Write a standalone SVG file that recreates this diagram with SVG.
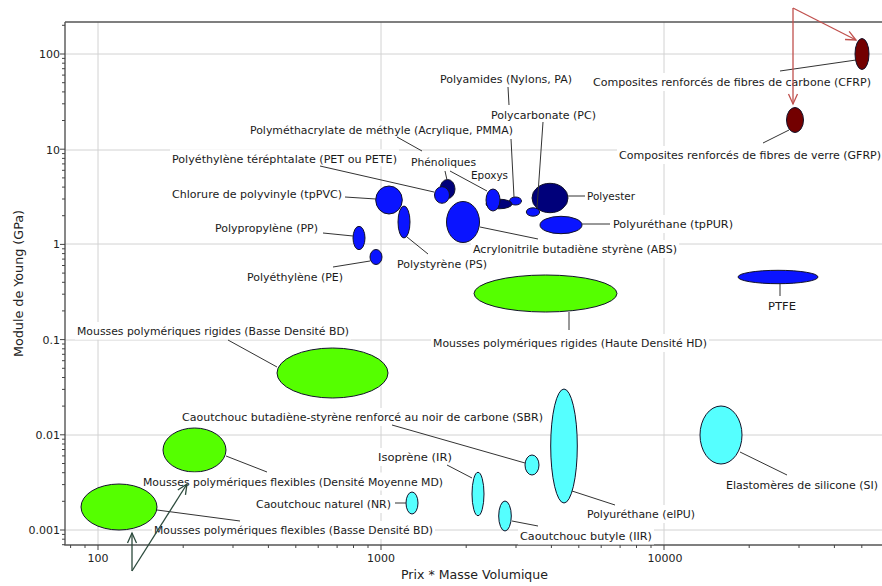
<svg xmlns="http://www.w3.org/2000/svg" width="882" height="586" viewBox="0 0 882 586">
<style>
.t{font-family:"DejaVu Sans",Verdana,sans-serif;font-size:11px;fill:#1a1a1a}
.ax{font-family:"DejaVu Sans",Verdana,sans-serif;font-size:11px;fill:#222}
.at{font-family:"DejaVu Sans",Verdana,sans-serif;font-size:12.5px;fill:#222}
.bg{fill:#fff}
.grid{stroke:#d2d2d2;stroke-width:1;fill:none}
.tick{stroke:#444;stroke-width:1}
.frame{stroke:#555;stroke-width:1.4;fill:none}
.lead{stroke:#333;stroke-width:1;fill:none}
.e{stroke:#12122a;stroke-width:1}
.blue{fill:#0a14ff}
.navy{fill:#00007a}
.green{fill:#55ff00}
.cyan{fill:#55ffff}
.dred{fill:#730000}
.rarr{stroke:#c0504d;stroke-width:1.3;fill:none}
.garr{stroke:#2c4a3c;stroke-width:1.3;fill:none}
</style>
<defs>
<marker id="mr" markerUnits="userSpaceOnUse" markerWidth="14" markerHeight="12" refX="11" refY="6" orient="auto"><path d="M1,1.5 L11,6 L1,10.5" fill="none" stroke="#c0504d" stroke-width="1.3"/></marker>
<marker id="mg" markerUnits="userSpaceOnUse" markerWidth="14" markerHeight="12" refX="11" refY="6" orient="auto"><path d="M1,1.5 L11,6 L1,10.5" fill="none" stroke="#2c4a3c" stroke-width="1.3"/></marker>
</defs>
<rect width="882" height="586" fill="#fff"/>
<g id="grid">
<path class="grid" d="M98,22V545M381,22V545M664,22V545M65,54H882M65,150H882M65,244H882M65,340H882M65,435H882M65,530H882"/>
</g>
<g id="axes">
<path class="frame" d="M65,22H882M65,22V545H882"/>
<path class="tick" d="M60,54H65M60,149.2H65M60,244.4H65M60,339.6H65M60,434.8H65M60,530H65
M62,25.3H65
M62,120.5H65M62,103.8H65M62,91.9H65M62,82.7H65M62,75.1H65M62,68.7H65M62,63.2H65M62,58.4H65
M62,215.7H65M62,199H65M62,187.1H65M62,177.9H65M62,170.3H65M62,163.9H65M62,158.4H65M62,153.6H65
M62,310.9H65M62,294.2H65M62,282.3H65M62,273.1H65M62,265.5H65M62,259.1H65M62,253.6H65M62,248.8H65
M62,406.1H65M62,389.4H65M62,377.5H65M62,368.3H65M62,360.7H65M62,354.3H65M62,348.8H65M62,344H65
M62,501.3H65M62,484.6H65M62,472.7H65M62,463.5H65M62,455.9H65M62,449.5H65M62,444H65M62,439.2H65
M62,534.4H65M62,539.2H65M62,544.7H65"/>
<path class="tick" d="M98,545V550M381,545V550M664,545V550
M70.6,545V548M85,545V548
M183.2,545V548M233,545V548M268.4,545V548M295.8,545V548M318.2,545V548M337.1,545V548M353.5,545V548M368,545V548
M466.2,545V548M516,545V548M551.4,545V548M578.8,545V548M601.2,545V548M620.1,545V548M636.5,545V548M651,545V548
M749.2,545V548M799,545V548M834.4,545V548M861.8,545V548"/>
<g class="ax" text-anchor="end">
<text x="60" y="58">100</text>
<text x="60" y="154">10</text>
<text x="60" y="248">1</text>
<text x="60" y="344">0.1</text>
<text x="60" y="439">0.01</text>
<text x="60" y="534">0.001</text>
</g>
<g class="ax" text-anchor="middle">
<text x="98" y="562">100</text>
<text x="381" y="562">1000</text>
<text x="665" y="562">10000</text>
</g>
<text class="at" x="474.5" y="579" text-anchor="middle" textLength="147" lengthAdjust="spacingAndGlyphs">Prix * Masse Volumique</text>
<text class="at" transform="translate(23,283.5) rotate(-90)" text-anchor="middle" textLength="147" lengthAdjust="spacingAndGlyphs">Module de Young (GPa)</text>
</g>

<g id="n-cfrp"><ellipse class="e dred" cx="862" cy="54" rx="7" ry="15.5"/><rect class="bg" x="591" y="73" width="282" height="18"/><text class="t" x="593" y="86" textLength="278" lengthAdjust="spacingAndGlyphs">Composites renforcés de fibres de carbone (CFRP)</text></g>
<g id="n-gfrp"><ellipse class="e dred" cx="795" cy="120" rx="8.5" ry="12.5"/><rect class="bg" x="617" y="146" width="265" height="18"/><text class="t" x="619" y="159" textLength="262" lengthAdjust="spacingAndGlyphs">Composites renforcés de fibres de verre (GFRP)</text></g>
<g id="n-pa"><ellipse class="e blue" cx="515.5" cy="201" rx="6" ry="4"/><rect class="bg" x="438" y="70" width="136" height="18"/><text class="t" x="440" y="83" textLength="132" lengthAdjust="spacingAndGlyphs">Polyamides (Nylons, PA)</text></g>
<g id="n-pc"><ellipse class="e blue" cx="533" cy="212" rx="6.7" ry="4.2"/><rect class="bg" x="489" y="106" width="109" height="18"/><text class="t" x="491" y="119" textLength="105" lengthAdjust="spacingAndGlyphs">Polycarbonate (PC)</text></g>
<g id="n-phen"><ellipse class="e navy" cx="447.5" cy="189" rx="7.5" ry="9.5"/><rect class="bg" x="409" y="153" width="69" height="18"/><text class="t" x="411" y="166" textLength="65" lengthAdjust="spacingAndGlyphs">Phénoliques</text></g>
<g id="n-epoxy"><ellipse class="e navy" cx="499" cy="204" rx="13" ry="4.8"/><rect class="bg" x="470" y="167" width="40" height="16"/><text class="t" x="471" y="179" textLength="37" lengthAdjust="spacingAndGlyphs">Epoxys</text></g>
<g id="n-pmma"><ellipse class="e blue" cx="493" cy="200" rx="7" ry="11"/><rect class="bg" x="248" y="121" width="267" height="18"/><text class="t" x="250" y="134" textLength="263" lengthAdjust="spacingAndGlyphs">Polyméthacrylate de méthyle (Acrylique, PMMA)</text></g>
<g id="n-pet"><ellipse class="e blue" cx="442" cy="195" rx="7.5" ry="8.3"/><rect class="bg" x="170" y="149.3" width="229" height="17"/><text class="t" x="172" y="163" textLength="225" lengthAdjust="spacingAndGlyphs">Polyéthylène téréphtalate (PET ou PETE)</text></g>
<g id="n-pvc"><ellipse class="e blue" cx="389" cy="200" rx="13.3" ry="14"/><rect class="bg" x="170" y="185" width="174" height="18"/><text class="t" x="172" y="198" textLength="170" lengthAdjust="spacingAndGlyphs">Chlorure de polyvinyle (tpPVC)</text></g>
<g id="n-polyester"><ellipse class="e navy" cx="550" cy="198" rx="18" ry="14.7"/><rect class="bg" x="585" y="187" width="52" height="18"/><text class="t" x="587" y="200" textLength="48" lengthAdjust="spacingAndGlyphs">Polyester</text></g>
<g id="n-tppur"><ellipse class="e blue" cx="561" cy="225" rx="21" ry="8.7"/><rect class="bg" x="611" y="215" width="124" height="18"/><text class="t" x="613" y="228" textLength="120" lengthAdjust="spacingAndGlyphs">Polyuréthane (tpPUR)</text></g>
<g id="n-pp"><ellipse class="e blue" cx="359" cy="238" rx="6" ry="11.7"/><rect class="bg" x="213" y="219" width="107" height="18"/><text class="t" x="215" y="232" textLength="103" lengthAdjust="spacingAndGlyphs">Polypropylène (PP)</text></g>
<g id="n-abs"><ellipse class="e blue" cx="463" cy="222" rx="16.5" ry="20.5"/><rect class="bg" x="471" y="240" width="208" height="18"/><text class="t" x="473" y="253" textLength="204" lengthAdjust="spacingAndGlyphs">Acrylonitrile butadiène styrène (ABS)</text></g>
<g id="n-ps"><ellipse class="e blue" cx="404" cy="222" rx="6" ry="16"/><rect class="bg" x="395" y="255" width="94" height="18"/><text class="t" x="397" y="268" textLength="90" lengthAdjust="spacingAndGlyphs">Polystyrène (PS)</text></g>
<g id="n-pe"><ellipse class="e blue" cx="376" cy="257" rx="6" ry="7.5"/><rect class="bg" x="245" y="268" width="100" height="18"/><text class="t" x="247" y="281" textLength="96" lengthAdjust="spacingAndGlyphs">Polyéthylène (PE)</text></g>
<g id="n-ptfe"><ellipse class="e blue" cx="778" cy="277" rx="40" ry="6.7"/><rect class="bg" x="766" y="297" width="32" height="18"/><text class="t" x="768" y="310" textLength="28" lengthAdjust="spacingAndGlyphs">PTFE</text></g>
<g id="n-rigid-bd"><ellipse class="e green" cx="332.5" cy="373" rx="55.5" ry="25"/><rect class="bg" x="75" y="322" width="276" height="17.6"/><text class="t" x="77" y="335" textLength="272" lengthAdjust="spacingAndGlyphs">Mousses polymériques rigides (Basse Densité BD)</text></g>
<g id="n-rigid-hd"><ellipse class="e green" cx="545.5" cy="293.5" rx="71.5" ry="18.5"/><rect class="bg" x="431" y="334" width="278" height="18"/><text class="t" x="433" y="347" textLength="274" lengthAdjust="spacingAndGlyphs">Mousses polymériques rigides (Haute Densité HD)</text></g>
<g id="n-sbr"><ellipse class="e cyan" cx="532" cy="465" rx="7" ry="10"/><rect class="bg" x="180" y="408" width="365" height="18"/><text class="t" x="182" y="421" textLength="361" lengthAdjust="spacingAndGlyphs">Caoutchouc butadiène-styrène renforcé au noir de carbone (SBR)</text></g>
<g id="n-elpu"><ellipse class="e cyan" cx="564" cy="446" rx="13.3" ry="57"/><rect class="bg" x="585" y="505" width="112" height="18"/><text class="t" x="587" y="518" textLength="108" lengthAdjust="spacingAndGlyphs">Polyuréthane (elPU)</text></g>
<g id="n-ir"><ellipse class="e cyan" cx="478" cy="494" rx="6" ry="21.7"/><rect class="bg" x="376" y="448" width="78" height="18"/><text class="t" x="378" y="461" textLength="74" lengthAdjust="spacingAndGlyphs">Isoprène (IR)</text></g>
<g id="n-flex-md"><ellipse class="e green" cx="194.5" cy="450" rx="31.5" ry="22"/><rect class="bg" x="141" y="472.5" width="304" height="18"/><text class="t" x="143" y="486" textLength="300" lengthAdjust="spacingAndGlyphs">Mousses polymériques flexibles (Densité Moyenne MD)</text></g>
<g id="n-si"><ellipse class="e cyan" cx="721" cy="435" rx="21" ry="29"/><rect class="bg" x="724" y="476" width="156" height="18"/><text class="t" x="726" y="489" textLength="152" lengthAdjust="spacingAndGlyphs">Elastomères de silicone (SI)</text></g>
<g id="n-nr"><ellipse class="e cyan" cx="412" cy="503" rx="6" ry="11"/><rect class="bg" x="254" y="495" width="139" height="18"/><text class="t" x="256" y="508" textLength="135" lengthAdjust="spacingAndGlyphs">Caoutchouc naturel (NR)</text></g>
<g id="n-flex-bd"><ellipse class="e green" cx="119" cy="507" rx="38" ry="23"/><rect class="bg" x="152" y="521" width="283" height="18"/><text class="t" x="154" y="534" textLength="279" lengthAdjust="spacingAndGlyphs">Mousses polymériques flexibles (Basse Densité BD)</text></g>
<g id="n-iir"><ellipse class="e cyan" cx="505" cy="516" rx="6.3" ry="15"/><rect class="bg" x="518" y="527" width="136" height="17.5"/><text class="t" x="520" y="540" textLength="132" lengthAdjust="spacingAndGlyphs">Caoutchouc butyle (IIR)</text></g>

<g id="connectors">
<path class="lead" d="M856,60L780,71M789,130L763,143
M508,87L509,105M511,139L514,197
M397,137L422,151
M445,171L447,180M450,171L487,191
M543,122L537,208
M320,166L434,192
M345,197L376,199
M568,196L585,196
M582,224L610,224
M323,233L353,236
M333,267L370,261
M428,254L407,237
M480,227L538,239
M780,284L780,296
M228,340L277,367
M569,312L569,330
M392,425L525,463
M226,456L267,472
M395,503L406,503
M157,510L240,521
M447,465L472,478
M512,521L538,526
M572,491L615,505
M740,452L787,475"/>
<line class="rarr" x1="793" y1="8" x2="856" y2="40" marker-end="url(#mr)"/>
<line class="rarr" x1="793" y1="8" x2="793" y2="104" marker-end="url(#mr)"/>
<line class="garr" x1="132" y1="571" x2="132" y2="533" marker-end="url(#mg)"/>
<line class="garr" x1="132" y1="571" x2="187" y2="484" marker-end="url(#mg)"/>
</g>
</svg>
